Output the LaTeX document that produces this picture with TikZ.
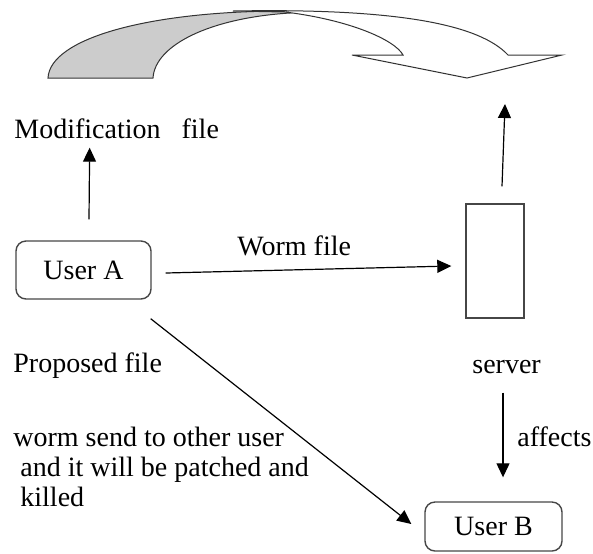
\documentclass[tikz,border=0pt]{standalone}
\usepackage{fontspec}
\setmainfont{Liberation Serif}
\usetikzlibrary{arrows.meta,positioning}
\definecolor{edgegray}{RGB}{70,70,70}
\definecolor{ribbongray}{RGB}{204,204,204}
\tikzset{
  userbox/.style={rectangle, rounded corners=5pt, draw=edgegray, line width=0.7pt,
                  minimum width=67.5pt, minimum height=29pt, align=center},
  serverbox/.style={rectangle, draw=edgegray, line width=0.7pt,
                    minimum width=29pt, minimum height=57pt},
  arrow/.style={-{Triangle[length=7pt,width=6.5pt]}, line width=0.6pt},
  label/.style={inner sep=0pt, anchor=base west},
  ribbon/.style={draw=black!80, line width=0.5pt},
}

\begin{document}
\begin{tikzpicture}[x=0.5pt, y=-0.5pt, font=\fontsize{14}{15}\selectfont]
\useasboundingbox (0,0) rectangle (593,553);

% bent ribbon arrow: shaded back, white front with its head
\filldraw[ribbon, fill=ribbongray] (48,78) .. controls (50,38) and (150,11) .. (285,11)
  -- (290,13) .. controls (210,18) and (155,45) .. (153,78) -- cycle;
\filldraw[ribbon, fill=white] (233,11) .. controls (400,8) and (480,25) .. (508,55)
  -- (562,55) -- (467,78) -- (352,55) -- (403,55)
  .. controls (395,40) and (350,20) .. (285,12) -- cycle;
\coordinate (headend) at (505,104);

\node[userbox] (userA) at (83.5,270) {User A};
\node[serverbox] (server) at (495,261) {};
\node[userbox, minimum width=68.5pt, minimum height=24.5pt] (userB) at (493.5,526.5) {User B};

\node[label] (modif) at (14,138) {Modification\ \ \ file};
\node[label] (wormlbl) at (237,255) {Worm file};
\node[label] (proposed) at (13,372) {Proposed file};
\node[label] (srvlbl) at (472,373) {server};
\node[label] (affects) at (517,446) {affects};
\node[inner sep=0pt, anchor=north west, align=left] (note) at (13,427)
  {worm send to other user\\\hspace*{0.25em}and it will be patched and\\\hspace*{0.25em}killed};

\draw[arrow] ([xshift=2.75pt,yshift=10.5pt]userA.north) -- ([xshift=-13.5pt,yshift=-4.5pt]modif.south);
\draw[arrow] ([xshift=7pt,yshift=-1.5pt]userA.east) -- ([xshift=-7pt,yshift=-2.5pt]server.west);
\draw[arrow] ([xshift=3.5pt,yshift=8.5pt]server.north) -- (headend);
\draw[arrow] ([xshift=4pt,yshift=-37pt]server.south) -- ([xshift=4.75pt,yshift=12pt]userB.north);
\draw[arrow] ([xshift=-0.5pt,yshift=-9.5pt]userA.south east) -- ([xshift=-6.5pt,yshift=1.25pt]userB.west);
\end{tikzpicture}
\end{document}
